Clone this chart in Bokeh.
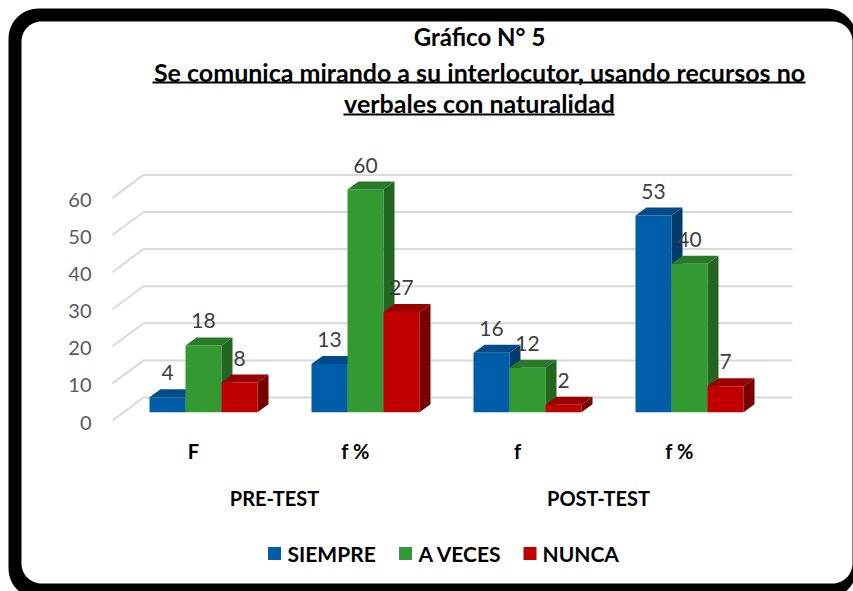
import numpy as np
from bokeh.plotting import figure
from bokeh.models import Range1d
from bokeh.core.properties import value
from bokeh.embed import file_html
from bokeh.resources import INLINE

# ---------------- data ----------------
title_lines = ["Gráfico N° 5",
               "Se comunica mirando a su interlocutor, usando recursos no",
               "verbales con naturalidad"]
groups = ["PRE-TEST", "POST-TEST"]
categories = ["F", "f %", "f", "f %"]
series_names = ["SIEMPRE", "A VECES", "NUNCA"]
siempre = [4, 13, 16, 53]
a_veces = [18, 60, 12, 40]
nunca = [8, 27, 2, 7]
y_ticks = [0, 10, 20, 30, 40, 50, 60]

# ---------------- style ----------------
FONT = value("Lato")
front_cols = ["#005DA8", "#339933", "#C00000"]
top_cols = ["#004B88", "#287A28", "#9A0000"]
side_cols = ["#003C6C", "#226622", "#780000"]
GRID = "#D9D9D9"

W, H = 853, 591
OX, OY = 0, 0           # page offset of the canvas

# layout: one x unit = one bar width (36 px); y in value units
PX_X = 36.0
PX_Y = 3.71
X0_PAGE = 149.0
Y0_PAGE = 411.7


def X(px):
    return (px - X0_PAGE) / PX_X


def Y(py):
    return (Y0_PAGE - py) / PX_Y


p = figure(width=W, height=H,
           x_range=Range1d(X(OX), X(OX + W)),
           y_range=Range1d(Y(OY + H), Y(OY)),
           output_backend="svg", toolbar_location=None,
           x_axis_location=None, y_axis_location=None,
           min_border=0)
p.outline_line_color = None
p.xgrid.visible = False
p.ygrid.visible = False
p.background_fill_color = "white"
p.border_fill_color = "white"


# ---------------- rounded frame ----------------
def rrect(x0, y0, x1, y1, r, n=16):
    pts = []
    for cx, cy, a0, a1 in [(x1 - r, y0 + r, -90, 0), (x1 - r, y1 - r, 0, 90),
                           (x0 + r, y1 - r, 90, 180), (x0 + r, y0 + r, 180, 270)]:
        for a in np.linspace(a0, a1, n):
            t = np.radians(a)
            pts.append((cx + r * np.cos(t), cy + r * np.sin(t)))
    return [X(a) for a, _ in pts], [Y(b) for _, b in pts]


xs, ys = rrect(8, 8, 856, 598, 30)
p.patch(xs, ys, fill_color="black", line_color=None)
xs, ys = rrect(21, 21, 852, 583, 20)
p.patch(xs, ys, fill_color="white", line_color=None)

# ---------------- 3D gridlines ----------------
BACK_L, BACK_R = X(143), X(792)
BACK_SHIFT = 14.7 / PX_Y          # back wall zero above bar-front zero
FLOOR_DX, FLOOR_DY = -31 / PX_X, -23 / PX_Y
gy = [t + BACK_SHIFT for t in y_ticks]
p.segment(x0=[BACK_L] * len(gy), y0=gy, x1=[BACK_R] * len(gy), y1=gy,
          line_color=GRID, line_width=2)
p.segment(x0=[BACK_L] * len(gy), y0=gy, x1=[BACK_L + FLOOR_DX] * len(gy),
          y1=[g + FLOOR_DY for g in gy], line_color=GRID, line_width=2)

# tick labels (front edge of the floor)
p.text(x=[X(91)] * len(y_ticks), y=[t + BACK_SHIFT + FLOOR_DY - 2 / PX_Y for t in y_ticks],
       text=[str(t) for t in y_ticks], text_align="right", text_baseline="middle",
       text_font=FONT, text_font_size="20px", text_color="#595959")

# ---------------- 3D bars ----------------
DDX, DDY = 11 / PX_X, 8 / PX_Y
GROUP_STEP = 4.5
all_series = [siempre, a_veces, nunca]
for gi in range(len(categories)):
    for si, vals in enumerate(all_series):
        v = vals[gi]
        u = gi * GROUP_STEP + si
        p.quad(left=u, right=u + 1, bottom=0, top=v,
               fill_color=front_cols[si], line_color=None)
        p.patch([u, u + 1, u + 1 + DDX, u + DDX], [v, v, v + DDY, v + DDY],
                fill_color=top_cols[si], line_color=None)
        p.patch([u + 1, u + 1 + DDX, u + 1 + DDX, u + 1], [0, DDY, v + DDY, v],
                fill_color=side_cols[si], line_color=None)

# data labels
lx, ly, lt = [], [], []
for gi in range(len(categories)):
    for si, vals in enumerate(all_series):
        lx.append(gi * GROUP_STEP + si + 0.5)
        ly.append(vals[gi] + 24.5 / PX_Y)
        lt.append(str(vals[gi]))
p.text(x=lx, y=ly, text=lt, text_align="center", text_baseline="middle",
       text_font=FONT, text_font_size="21px", text_color="#404040")

# category labels
cat_x = [gi * GROUP_STEP + 44 / PX_X for gi in range(len(categories))]
p.text(x=cat_x, y=[Y(450)] * len(categories), text=categories,
       text_align="center", text_baseline="middle", text_font=FONT,
       text_font_style="bold", text_font_size="20px", text_color="black")
grp_x = [(cat_x[0] + cat_x[1]) / 2, (cat_x[2] + cat_x[3]) / 2]
p.text(x=grp_x, y=[Y(497)] * 2, text=groups, text_align="center",
       text_baseline="middle", text_font=FONT, text_font_style="bold",
       text_font_size="20px", text_color="black")

# ---------------- title ----------------
p.text(x=[X(479)], y=[Y(36)], text=title_lines[:1],
       text_align="center", text_baseline="middle", text_font=FONT,
       text_font_style="bold", text_font_size="24px", text_color="black")
p.text(x=[X(479)] * 2, y=[Y(71), Y(102)], text=title_lines[1:],
       text_align="center", text_baseline="middle", text_font=FONT,
       text_font_style="bold", text_font_size="25px", text_color="black")
p.segment(x0=[X(152), X(343)], y0=[Y(82), Y(114)], x1=[X(805), X(614)],
          y1=[Y(82), Y(114)], line_color="black", line_width=2)

# ---------------- legend ----------------
sq_x = [X(274), X(405), X(529.5)]
p.rect(x=sq_x, y=[Y(553)] * 3, width=13, height=13, width_units="screen",
       height_units="screen", fill_color=front_cols, line_color=None)
p.text(x=[X(287), X(418), X(542)], y=[Y(553)] * 3, text=series_names,
       text_align="left", text_baseline="middle", text_font=FONT,
       text_font_style="bold", text_font_size="21px", text_color="black")

open("out.html", "w").write(file_html(p, INLINE))
